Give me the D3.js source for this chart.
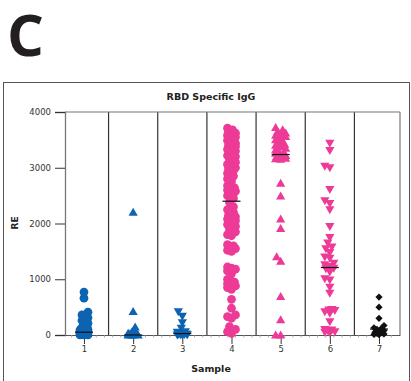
<!DOCTYPE html>
<html lang="en">
<head>
  <meta charset="UTF-8">
  <title>RBD Specific IgG</title>
  <style>
    * { margin: 0; padding: 0; box-sizing: border-box; }
    body { background: #fff; width: 411px; height: 381px; overflow: hidden; font-family: 'DejaVu Sans', Verdana, sans-serif; }
    svg { display: block; }
  </style>
</head>
<body>
  <svg id="chart" width="411" height="381"></svg>

  <script src="https://d3js.org/d3.v7.min.js"></script>
  <script>
    const categories = [1, 2, 3, 4, 5, 6, 7];
    const yTicks = [0, 1000, 2000, 3000, 4000];

    const sample1 = [770, 660, 410, 360, 310, 260, 210, 170, 140, 110, 105, 100, 95, 90, 90, 85, 80, 80,
      75, 70, 70, 65, 60, 60, 55, 50, 50, 45, 40, 40, 35, 30, 30, 25, 20, 20, 15, 10, 10, 5, 5, 0, 0, 0];
    const sample2 = [2200, 420, 140, 60, 40, 30, 20, 15, 10, 10, 5, 5, 0, 0, 0, 0];
    const sample3 = [420, 340, 220, 125, 60, 50, 40, 30, 25, 20, 15, 10, 5, 5, 0, 0];
    const sample4 = [3710, 3680, 3650, 3620, 3600, 3580, 3550, 3520, 3490, 3460, 3450, 3440, 3420, 3400,
      3380, 3350, 3330, 3300, 3250, 3220, 3200, 3150, 3100, 3060, 3030, 3000, 2980, 2950, 2900,
      2850, 2800, 2750, 2680, 2640, 2620, 2600, 2590, 2580, 2560, 2540, 2500, 2450,
      2380, 2300, 2250, 2200, 2150, 2120, 2100, 2080, 2050, 2000, 1980, 1950, 1900,
      1850, 1800, 1780, 1620, 1600, 1580, 1550, 1520, 1500,
      1220, 1200, 1180, 1150, 1100, 1000, 980, 950, 920, 900, 880, 850, 820,
      640, 480, 360, 330, 300, 150, 100, 60, 30];
    const sample5 = [3720, 3680, 3650, 3620, 3600, 3580, 3560, 3540, 3500, 3480, 3450, 3420, 3400, 3380,
      3350, 3320, 3300, 3280, 3260, 3240, 3220, 3200, 3200, 3180, 3170, 3160, 3150,
      2720, 2490, 2080, 1910, 1400, 1320, 690, 270, 0, 0];
    const sample6 = [3440, 3310, 3030, 3000, 2610, 2410, 2360, 2250, 1950, 1750, 1650, 1580, 1550, 1480,
      1400, 1380, 1290, 1260, 1230, 1200, 1190, 1130, 1010, 990, 860, 750,
      460, 450, 440, 420, 390, 240, 100, 90, 80, 60, 50, 40];
    const sample7 = [680, 500, 300, 170, 130, 110, 100, 80, 60, 50, 40, 30, 20, 10, 5];
    const medians = [50, 0, 25, 2400, 3237, 1210, 107];

    const groups = [
      { cat: 1, values: sample1, shape: 'circle', color: '#0b63b1' },
      { cat: 2, values: sample2, shape: 'up', color: '#0b63b1' },
      { cat: 3, values: sample3, shape: 'down', color: '#0b63b1' },
      { cat: 4, values: sample4, shape: 'circle', color: '#ee3a97' },
      { cat: 5, values: sample5, shape: 'up', color: '#ee3a97' },
      { cat: 6, values: sample6, shape: 'down', color: '#ee3a97' },
      { cat: 7, values: sample7, shape: 'diamond', color: '#111111' }
    ];

    const svg = d3.select('#chart');
    const plotLeft = 65, plotRight = 400, plotTop = 112, plotBottom = 335;

    const x = d3.scaleLinear().domain([0.614, 7.427]).range([plotLeft, plotRight]);
    const y = d3.scaleLinear().domain([0, 4000]).range([plotBottom, plotTop]);

    // outer frame + panel letter
    svg.append('rect')
      .attr('x', 3.5).attr('y', 82.5).attr('width', 406).attr('height', 310)
      .attr('fill', 'none').attr('stroke', '#555').attr('stroke-width', 1);
    svg.append('text')
      .attr('x', 7).attr('y', 56)
      .attr('font-family', "'Open Sans', sans-serif")
      .attr('font-weight', 'bold').attr('font-size', 58)
      .attr('fill', '#231f20')
      .text('C');

    svg.append('text')
      .attr('x', 211).attr('y', 100)
      .attr('text-anchor', 'middle')
      .attr('font-weight', 'bold').attr('font-size', 9.5)
      .attr('fill', '#222')
      .text('RBD Specific IgG');

    // separators between samples
    const seps = categories.slice(0, -1).map(c => c + 0.5);
    svg.append('g').selectAll('line')
      .data(seps)
      .join('line')
      .attr('x1', d => x(d)).attr('x2', d => x(d))
      .attr('y1', plotTop).attr('y2', plotBottom)
      .attr('stroke', '#333').attr('stroke-width', 1.2);
    svg.append('line')
      .attr('x1', plotRight).attr('x2', plotRight).attr('y1', plotTop).attr('y2', plotBottom)
      .attr('stroke', '#777').attr('stroke-width', 1.2);
    svg.append('line')
      .attr('x1', plotLeft).attr('x2', plotRight).attr('y1', plotTop).attr('y2', plotTop)
      .attr('stroke', '#777').attr('stroke-width', 1.2);

    // y axis
    const yAxis = svg.append('g')
      .attr('transform', `translate(${plotLeft},0)`)
      .call(d3.axisLeft(y).tickValues(yTicks).tickFormat(d3.format('d')).tickSize(10).tickPadding(4));
    yAxis.select('.domain').attr('stroke', '#777').attr('stroke-width', 1.3);
    yAxis.selectAll('.tick line').attr('stroke', '#333').attr('stroke-width', 1);
    yAxis.selectAll('text')
      .attr('font-family', "'DejaVu Sans', sans-serif")
      .attr('font-size', 8.5).attr('fill', '#333');

    // x axis
    const xAxis = svg.append('g')
      .attr('transform', `translate(0,${plotBottom})`)
      .call(d3.axisBottom(x).tickValues(categories).tickFormat(d3.format('d')).tickSize(9).tickPadding(2).tickSizeOuter(0));
    xAxis.select('.domain').attr('stroke', '#555').attr('stroke-width', 1.2);
    xAxis.selectAll('.tick line').attr('stroke', '#333');
    xAxis.selectAll('text')
      .attr('font-family', "'DejaVu Sans', sans-serif")
      .attr('font-size', 8.5).attr('fill', '#333');

    const minor = d3.range(0.75, 7.4, 1 / 6).filter(v => Math.abs(v - Math.round(v)) > 0.05);
    svg.append('g').selectAll('line')
      .data(minor)
      .join('line')
      .attr('x1', d => x(d)).attr('x2', d => x(d))
      .attr('y1', plotBottom).attr('y2', plotBottom + 2.5)
      .attr('stroke', '#999').attr('stroke-width', 0.8);

    svg.append('text')
      .attr('transform', 'translate(18,223) rotate(-90)')
      .attr('text-anchor', 'middle')
      .attr('font-weight', 'bold').attr('font-size', 9)
      .attr('fill', '#222')
      .text('RE');
    svg.append('text')
      .attr('x', 211).attr('y', 372)
      .attr('text-anchor', 'middle')
      .attr('font-weight', 'bold').attr('font-size', 9.5)
      .attr('fill', '#222')
      .text('Sample');

    // marker shapes
    function shapePath(shape) {
      if (shape === 'circle') return d3.symbol(d3.symbolCircle, 60)();
      if (shape === 'up') return 'M0,-4.6L4.6,3.4L-4.6,3.4Z';
      if (shape === 'down') return 'M0,4.6L4.6,-3.4L-4.6,-3.4Z';
      return 'M0,-3.6L3.6,0L0,3.6L-3.6,0Z';
    }

    // simple deterministic swarm, narrow like the prism layout
    function swarm(values, minDist, maxOff) {
      const offs = [0, -2, 2, -4, 4, -1, 1, -3, 3, -5, 5];
      const placed = [];
      values.slice().sort((a, b) => a - b).forEach(v => {
        const py = y(v);
        let best = 0, bestD = -1;
        for (const o of offs) {
          if (Math.abs(o) > maxOff) continue;
          let d = Infinity;
          for (const p of placed) d = Math.min(d, Math.hypot(p.dx - o, p.y - py));
          if (d >= minDist) { best = o; bestD = d; break; }
          if (d > bestD) { bestD = d; best = o; }
        }
        placed.push({ v, y: py, dx: best });
      });
      return placed;
    }

    groups.forEach(g => {
      const maxOff = g.shape === 'circle' ? 4 : 5;
      const pts = swarm(g.values, g.shape === 'diamond' ? 4.5 : 5, maxOff);
      svg.append('g').selectAll('path')
        .data(pts)
        .join('path')
        .attr('d', shapePath(g.shape))
        .attr('transform', d => `translate(${x(g.cat) + d.dx},${d.y})`)
        .attr('fill', g.color);
    });

    svg.append('g').selectAll('line')
      .data(medians)
      .join('line')
      .attr('x1', (d, i) => x(categories[i]) - 9).attr('x2', (d, i) => x(categories[i]) + 9)
      .attr('y1', d => y(d)).attr('y2', d => y(d))
      .attr('stroke', '#111').attr('stroke-width', 1.2);
  </script>
</body>
</html>
